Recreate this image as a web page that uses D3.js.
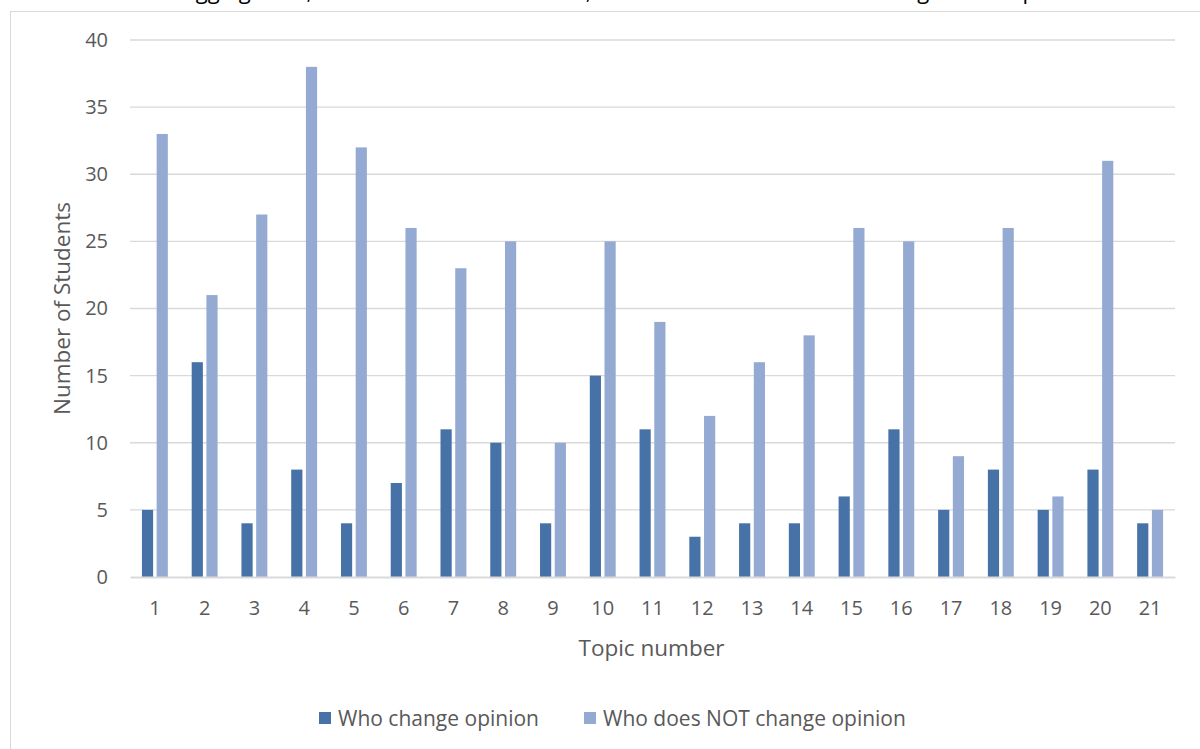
<!DOCTYPE html>
<html>
<head>
<meta charset="utf-8">
<script src="https://cdn.jsdelivr.net/npm/d3@7"></script>
<style>
  html, body { margin: 0; padding: 0; background: #fff; }
  svg { display: block; }
  text { font-family: "Open Sans", Lato, sans-serif; }
</style>
</head>
<body>
<svg id="chart" width="1200" height="749"></svg>
<script>
const title = "Blogging 2016, Classroom Debate Results, Number of Students Who Change Their Opinion";
const categories = ["1","2","3","4","5","6","7","8","9","10","11","12","13","14","15","16","17","18","19","20","21"];
const seriesNames = ["Who change opinion", "Who does NOT change opinion"];
const changed = [5,16,4,8,4,7,11,10,4,15,11,3,4,4,6,11,5,8,5,8,4];
const notChanged = [33,21,27,38,32,26,23,25,10,25,19,12,16,18,26,25,9,26,6,31,5];
const yTicks = [0,5,10,15,20,25,30,35,40];
const colors = ["#4672A8", "#95AAD3"];

const svg = d3.select("#chart");
const W = 1200, H = 749;
const m = {left: 130, right: 25, top: 40, bottom: 172};
const plotW = W - m.left - m.right;   // 1045
const plotH = H - m.top - m.bottom;   // 537

// chart border (cropped)
svg.append("rect")
  .attr("x", 10.5).attr("y", 11.5)
  .attr("width", 1300).attr("height", 900)
  .attr("fill", "none").attr("stroke", "#D9D9D9").attr("stroke-width", 1);

// title (mostly cut off at the top edge, as in the reference)
svg.append("text")
  .attr("x", 625).attr("y", -1)
  .attr("text-anchor", "middle")
  .attr("font-size", 22)
  .attr("fill", "#000")
  .text(title);

const g = svg.append("g").attr("transform", `translate(${m.left},${m.top})`);

const x0 = d3.scaleBand().domain(categories).range([0, plotW]).paddingInner(0).paddingOuter(0);
const x1 = d3.scaleBand().domain([0,1]).range([0, x0.bandwidth()]).paddingInner(0.24).paddingOuter(0.81);
const y = d3.scaleLinear().domain([0, 40]).range([plotH, 0]);

// gridlines
g.append("g").selectAll("line")
  .data(yTicks.filter(d => d > 0))
  .join("line")
  .attr("x1", 0).attr("x2", plotW)
  .attr("y1", d => y(d)).attr("y2", d => y(d))
  .attr("stroke", "#D9D9D9").attr("stroke-width", 1.3);

// y axis labels
const yAxis = d3.axisLeft(y).tickValues(yTicks).tickSize(0).tickPadding(22);
const ya = g.append("g").call(yAxis);
ya.select(".domain").remove();
ya.selectAll("text").attr("font-size", 20).attr("fill", "#595959")
  .attr("font-family", "'Open Sans', Lato, sans-serif");

// bars
const data = categories.map((c, i) => ({c, vals: [changed[i], notChanged[i]]}));
const groups = g.append("g").selectAll("g")
  .data(data).join("g")
  .attr("transform", d => `translate(${x0(d.c)},0)`);
groups.selectAll("rect")
  .data(d => d.vals.map((v, k) => ({v, k})))
  .join("rect")
  .attr("x", d => x1(d.k))
  .attr("width", x1.bandwidth())
  .attr("y", d => y(d.v))
  .attr("height", d => y(0) - y(d.v))
  .attr("fill", d => colors[d.k]);

// x axis
const xAxis = d3.axisBottom(x0).tickSize(0).tickPadding(24);
const xa = g.append("g").attr("transform", `translate(0,${plotH})`).call(xAxis);
xa.select(".domain").attr("stroke", "#D9D9D9").attr("stroke-width", 2);
xa.selectAll("text").attr("font-size", 20).attr("fill", "#595959")
  .attr("font-family", "'Open Sans', Lato, sans-serif");

// axis titles
svg.append("text")
  .attr("x", m.left + plotW / 2 - 1).attr("y", 656)
  .attr("text-anchor", "middle").attr("font-size", 22.5).attr("fill", "#595959")
  .text("Topic number");
svg.append("text")
  .attr("transform", `translate(70,${m.top + plotH / 2}) rotate(-90)`)
  .attr("text-anchor", "middle").attr("font-size", 22.5).attr("fill", "#595959")
  .text("Number of Students");

// legend
const legendItems = [{name: seriesNames[0], x: 319}, {name: seriesNames[1], x: 584}];
const lg = svg.append("g").selectAll("g").data(legendItems).join("g")
  .attr("transform", d => `translate(${d.x},712)`);
lg.append("rect").attr("width", 12).attr("height", 12)
  .attr("fill", (d, i) => colors[i]);
lg.append("text").attr("x", 19).attr("y", 13.5)
  .attr("font-size", 21).attr("fill", "#595959")
  .text(d => d.name);
</script>
</body>
</html>
